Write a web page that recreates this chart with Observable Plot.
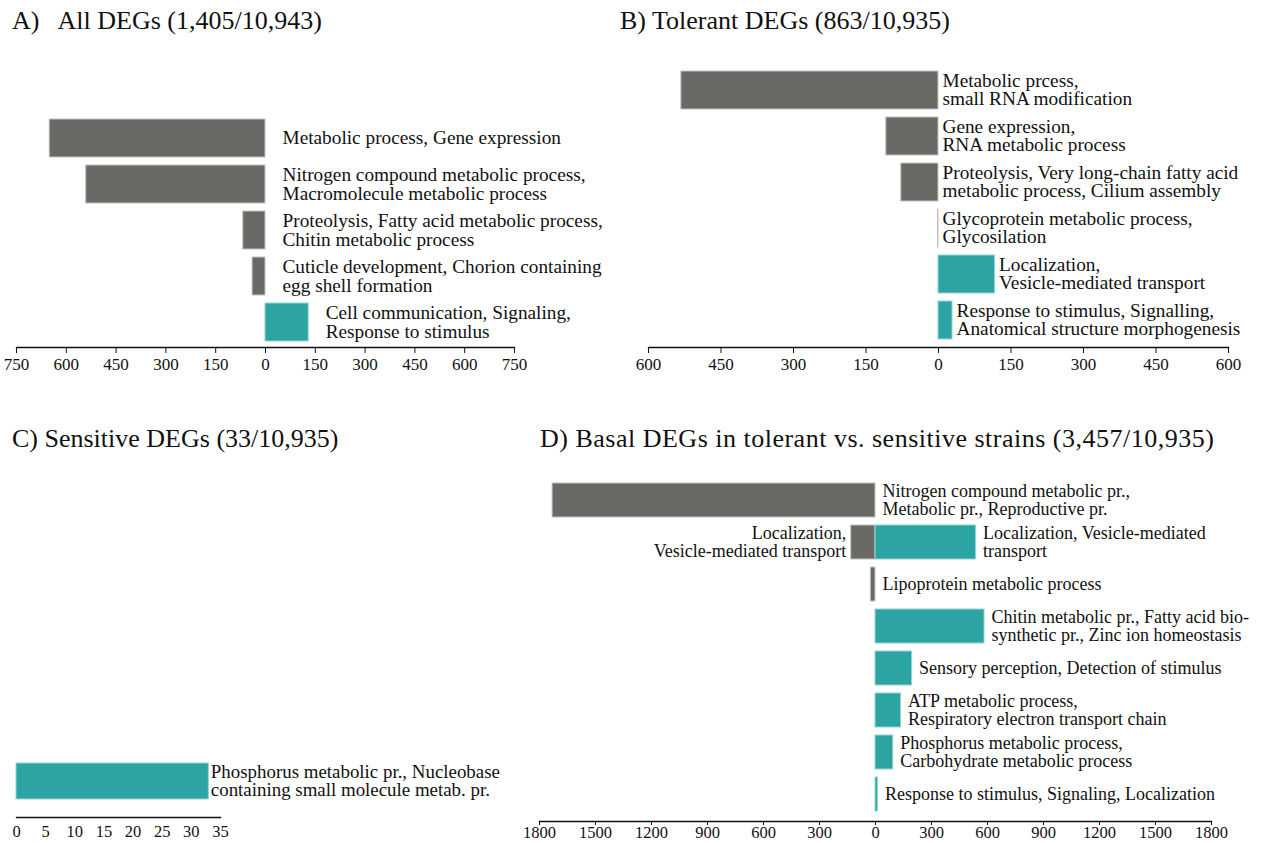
<!DOCTYPE html>
<html><head><meta charset="utf-8">
<script src="https://cdn.jsdelivr.net/npm/d3@7"></script>
<script src="https://cdn.jsdelivr.net/npm/@observablehq/plot@0.6"></script>
<style>
body{margin:0;background:#fff;}
#root{position:relative;width:1263px;height:843px;overflow:hidden;font-family:"Liberation Serif","Times New Roman",serif;color:#111;}
.title{position:absolute;font-size:26px;line-height:1;white-space:pre;color:#111;}
.panel{position:absolute;}
</style></head><body><div id="root"></div>
<script>
// ---------- data ----------
const titleA = "A)   All DEGs (1,405/10,943)";
const titleB = "B) Tolerant DEGs (863/10,935)";
const titleC = "C) Sensitive DEGs (33/10,935)";
const titleD = "D) Basal DEGs in tolerant vs. sensitive strains (3,457/10,935)";

const aLabels = [
  "Metabolic process, Gene expression",
  "Nitrogen compound metabolic process,\nMacromolecule metabolic process",
  "Proteolysis, Fatty acid metabolic process,\nChitin metabolic process",
  "Cuticle development, Chorion containing\negg shell formation",
  "Cell communication, Signaling,\nResponse to stimulus"
];
const aValues = [-650, -540, -67, -39, 130];
const aTicks = [-750, -600, -450, -300, -150, 0, 150, 300, 450, 600, 750];

const bLabels = [
  "Metabolic prcess,\nsmall RNA modification",
  "Gene expression,\nRNA metabolic process",
  "Proteolysis, Very long-chain fatty acid\nmetabolic process, Cilium assembly",
  "Glycoprotein metabolic process,\nGlycosilation",
  "Localization,\nVesicle-mediated transport",
  "Response to stimulus, Signalling,\nAnatomical structure morphogenesis"
];
const bValues = [-532, -108, -77, -1, 117, 29];
const bTicks = [-600, -450, -300, -150, 0, 150, 300, 450, 600];

const cLabels = ["Phosphorus metabolic pr., Nucleobase\ncontaining small molecule metab. pr."];
const cValues = [33];
const cTicks = [0, 5, 10, 15, 20, 25, 30, 35];

const dLabels = [
  "Nitrogen compound metabolic pr.,\nMetabolic pr., Reproductive pr.",
  "Localization, Vesicle-mediated\ntransport",
  "Lipoprotein metabolic process",
  "Chitin metabolic pr., Fatty acid bio-\nsynthetic pr., Zinc ion homeostasis",
  "Sensory perception, Detection of stimulus",
  "ATP metabolic process,\nRespiratory electron transport chain",
  "Phosphorus metabolic process,\nCarbohydrate metabolic process",
  "Response to stimulus, Signaling, Localization"
];
const dLeftLabels = ["", "Localization,\nVesicle-mediated transport", "", "", "", "", "", ""];
const dDown = [-1730, -130, -25, 0, 0, 0, 0, 0];
const dUp = [0, 539, 0, 584, 196, 137, 95, 13];
const dTicks = [-1800, -1500, -1200, -900, -600, -300, 0, 300, 600, 900, 1200, 1500, 1800];

// ---------- style ----------
const GRAY = "#6b6966", GRAY_EDGE = "#c4c3c1";
const TEAL = "#2ca4a3", TEAL_EDGE = "#93d5d2";
const FONT = "'Liberation Serif','Times New Roman',serif";
const fmtAbs = d => String(Math.abs(d));
const root = document.getElementById("root");

function place(node, left, top) {
  node.classList.add("panel");
  node.style.left = left + "px";
  node.style.top = top + "px";
  root.appendChild(node);
}
function title(text, left, top, extra) {
  const t = document.createElement("div");
  t.className = "title";
  t.textContent = text;
  t.style.left = left + "px";
  t.style.top = top + "px";
  if (extra) Object.assign(t.style, extra);
  root.appendChild(t);
}
const fillOf = d => d.value < 0 ? GRAY : TEAL;
const edgeOf = d => d.value < 0 ? GRAY_EDGE : TEAL_EDGE;

// ---------- Panel A ----------
const rowsA = aLabels.map((label, i) => ({key: i, label, value: aValues[i]}));
place(Plot.plot({
  width: 620, height: 275, marginTop: 0, marginLeft: 16, marginRight: 106, marginBottom: 28,
  style: {fontFamily: FONT, fontSize: "17px", color: "#111", background: "transparent", overflow: "visible"},
  color: {type: "identity"},
  x: {domain: [-750, 750], label: null, axis: null},
  y: {domain: d3.range(rowsA.length), range: [18, 242], paddingInner: 0.18, paddingOuter: 0, axis: null},
  marks: [
    Plot.barX(rowsA, {x1: 0, x2: "value", y: "key", fill: fillOf, stroke: edgeOf, strokeWidth: 1}),
    Plot.text(rowsA, {x: d => Math.max(0, d.value), y: "key", text: "label", textAnchor: "start", dx: 17, fontSize: 19.3, lineHeight: 0.95, fill: "#111"}),
    Plot.frame({anchor: "bottom", stroke: "#111", strokeWidth: 1.3}),
    Plot.axisX({ticks: aTicks, tickFormat: fmtAbs, tickSize: 6, tickPadding: 4, label: null})
  ]
}), 0, 100);

// ---------- Panel B ----------
const rowsB = bLabels.map((label, i) => ({key: i, label, value: bValues[i]}));
place(Plot.plot({
  width: 643, height: 325, marginTop: 0, marginLeft: 28, marginRight: 35, marginBottom: 28,
  style: {fontFamily: FONT, fontSize: "17px", color: "#111", background: "transparent", overflow: "visible"},
  color: {type: "identity"},
  x: {domain: [-600, 600], label: null, axis: null},
  y: {domain: d3.range(rowsB.length), range: [18, 291], paddingInner: 0.18, paddingOuter: 0, axis: null},
  marks: [
    Plot.barX(rowsB, {x1: 0, x2: "value", y: "key", fill: fillOf, stroke: edgeOf, strokeWidth: 1}),
    Plot.text(rowsB, {x: d => Math.max(0, d.value), y: "key", text: "label", textAnchor: "start", dx: 4, fontSize: 19.3, lineHeight: 0.91, fill: "#111"}),
    Plot.frame({anchor: "bottom", stroke: "#111", strokeWidth: 1.3}),
    Plot.axisX({ticks: bTicks, tickFormat: fmtAbs, tickSize: 6, tickPadding: 4, label: null})
  ]
}), 620, 50);

// ---------- Panel C ----------
const rowsC = cLabels.map((label, i) => ({key: i, label, value: cValues[i]}));
place(Plot.plot({
  width: 520, height: 100, marginTop: 0, marginLeft: 16, marginRight: 300, marginBottom: 23,
  style: {fontFamily: FONT, fontSize: "16.5px", color: "#111", background: "transparent", overflow: "visible"},
  color: {type: "identity"},
  x: {domain: [0, 35], label: null, axis: null},
  y: {domain: d3.range(rowsC.length), range: [23, 59], padding: 0, axis: null},
  marks: [
    Plot.barX(rowsC, {x1: 0, x2: "value", y: "key", fill: fillOf, stroke: edgeOf, strokeWidth: 1}),
    Plot.text(rowsC, {x: "value", y: "key", text: "label", textAnchor: "start", dx: 2, fontSize: 18.9, lineHeight: 0.92, fill: "#111"}),
    Plot.frame({anchor: "bottom", stroke: "#111", strokeWidth: 1.3}),
    Plot.axisX({ticks: cTicks, tickFormat: fmtAbs, tickSize: 0, tickPadding: 8, label: null})
  ]
}), 0, 740);

// ---------- Panel D ----------
const rowsD = dLabels.map((label, i) => ({key: i, label, left: dLeftLabels[i], down: dDown[i], up: dUp[i]}));
place(Plot.plot({
  width: 763, height: 388, marginTop: 0, marginLeft: 39, marginRight: 52, marginBottom: 22,
  style: {fontFamily: FONT, fontSize: "16.5px", color: "#111", background: "transparent", overflow: "visible"},
  x: {domain: [-1800, 1800], label: null, axis: null},
  y: {domain: d3.range(rowsD.length), range: [24, 360], paddingInner: 0.186, paddingOuter: 0, axis: null},
  marks: [
    Plot.barX(rowsD.filter(d => d.down < 0), {x1: 0, x2: "down", y: "key", fill: GRAY, stroke: GRAY_EDGE, strokeWidth: 1}),
    Plot.barX(rowsD.filter(d => d.up > 0), {x1: 0, x2: "up", y: "key", fill: TEAL, stroke: TEAL_EDGE, strokeWidth: 1}),
    Plot.text(rowsD, {x: d => Math.max(0, d.up), y: "key", text: "label", textAnchor: "start", dx: 7, fontSize: 18, lineHeight: 0.98, fill: "#111"}),
    Plot.text(rowsD.filter(d => d.left), {x: "down", y: "key", text: "left", textAnchor: "end", dx: -5, fontSize: 18, lineHeight: 0.98, fill: "#111"}),
    Plot.frame({anchor: "bottom", stroke: "#111", strokeWidth: 1.3}),
    Plot.axisX({ticks: dTicks, tickFormat: fmtAbs, tickSize: 4, tickPadding: 1, label: null})
  ]
}), 500, 455);

// ---------- titles ----------
title(titleA, 12, 8);
title(titleB, 620, 8);
title(titleC, 12, 426);
title(titleD, 540, 426, {letterSpacing: "0.5px"});
</script>
</body></html>
